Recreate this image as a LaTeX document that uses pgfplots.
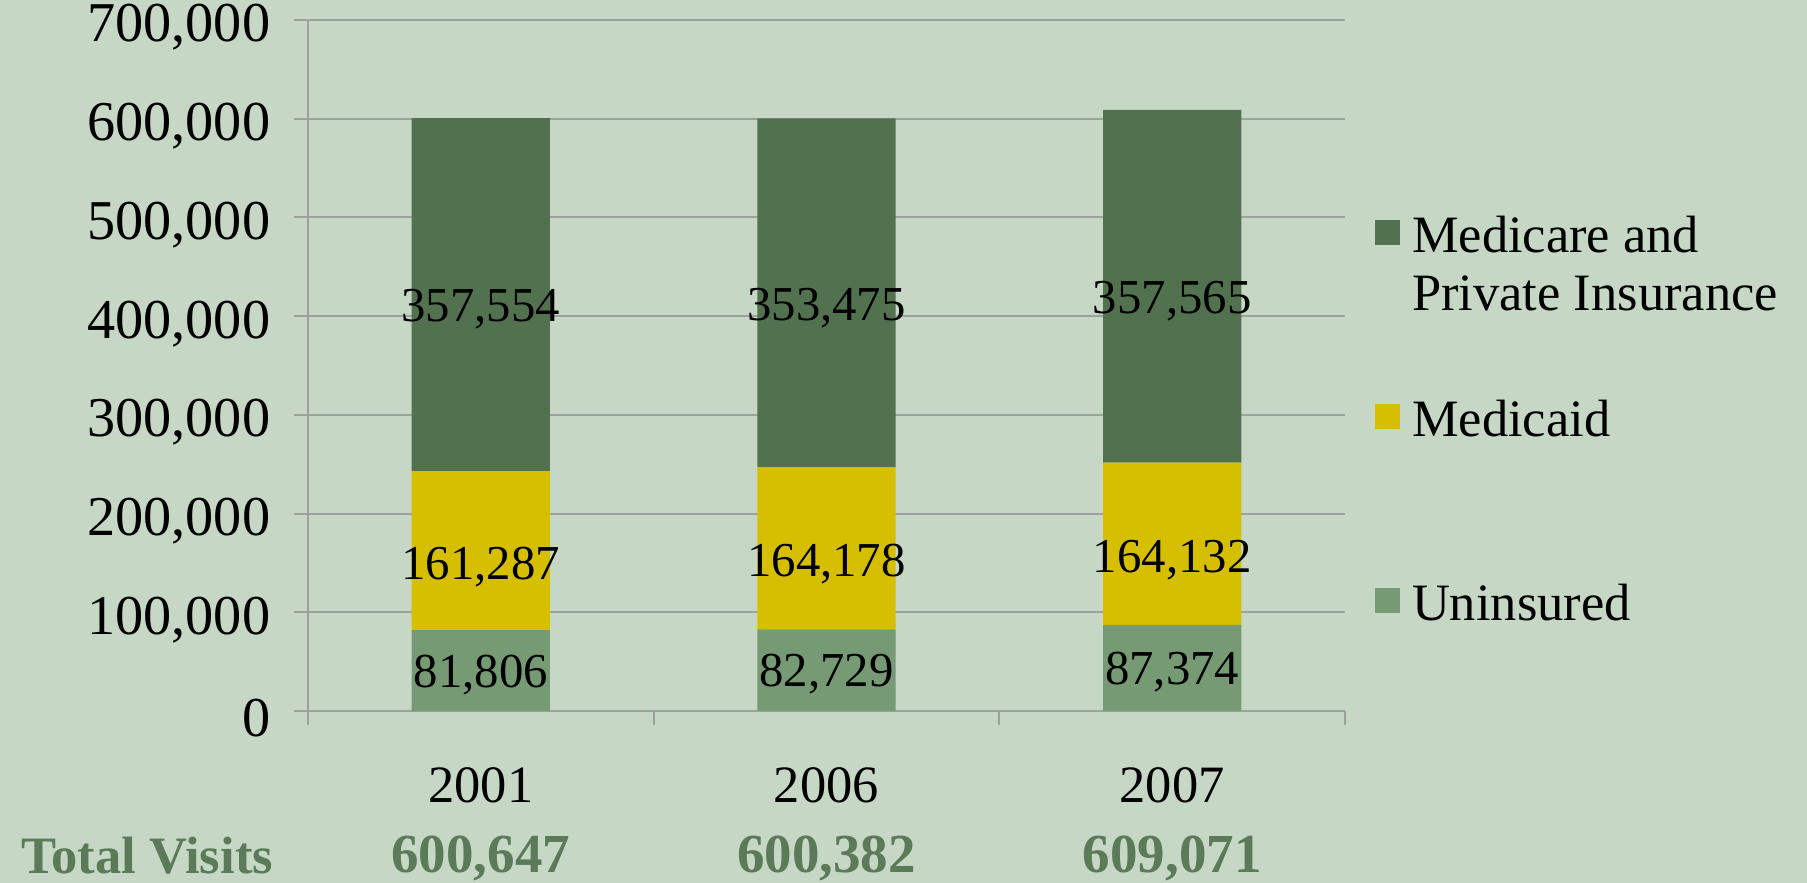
\documentclass[border=0pt]{standalone}
\usepackage{pgfplots}
\pgfplotsset{compat=1.18}
\usepackage{fontspec}
\setmainfont{Liberation Serif}

\definecolor{bgc}{HTML}{C6D8C5}
\definecolor{darkg}{HTML}{52714F}
\definecolor{yel}{HTML}{D6BF00}
\definecolor{lightg}{HTML}{769A73}
\definecolor{gridc}{HTML}{A0A09E}
\definecolor{totc}{HTML}{5A7A58}

% year over total, baseline on first line
\newcommand{\yr}[2]{\begin{tabular}[t]{@{}c@{}}#1\\\textcolor{totc}{\bfseries\fontsize{22}{28}\selectfont #2}\end{tabular}}
% two-line legend entry, baseline on first line
\newcommand{\legtwo}[2]{\begin{tabular}[t]{@{}l@{}}#1\\#2\end{tabular}}

\begin{document}
\begin{tikzpicture}
\useasboundingbox[fill=bgc] (-123.2pt,-68.8pt) rectangle (599.6pt,284.4pt);
\begin{axis}[
    at={(0,0)}, anchor=south west,
    scale only axis, width=414.8pt, height=276.4pt,
    ybar stacked, bar width=0.4,
    xmin=-0.5, xmax=2.5, ymin=0, ymax=700000,
    clip=false,
    axis lines=left,
    axis line style={draw=gridc, line width=0.8pt, -},
    ymajorgrids, grid style={draw=gridc, line width=0.8pt},
    tick align=outside,
    major tick length=5.6pt, minor tick length=5.6pt,
    ytick={0,100000,200000,300000,400000,500000,600000,700000},
    ytick style={draw=gridc, line width=0.8pt},
    scaled y ticks=false,
    /pgf/number format/fixed,
    /pgf/number format/1000 sep={,},
    /pgf/number format/assume math mode=true,
    yticklabel style={font=\fontsize{22.5}{26}\selectfont, xshift=-6pt, yshift=-3pt},
    xtick={0,1,2},
    xticklabels={{\yr{2001}{600,647}},{\yr{2006}{600,382}},{\yr{2007}{609,071}}},
    xticklabel style={font=\fontsize{21}{28}\selectfont, anchor=base, yshift=-31pt},
    minor xtick={-0.5,0.5,1.5,2.5},
    major x tick style={draw=none},
    minor x tick style={draw=gridc, line width=0.8pt},
    legend image code/.code={\fill[#1] (0pt,3.2pt) rectangle (10pt,13.2pt);},
    reverse legend,
    legend style={at={(1.028,0.7218)}, anchor=north west, draw=none, fill=none,
        inner sep=0pt, row sep=57.5pt, column sep=5pt,
        font=\fontsize{21}{23}\selectfont,
        cells={anchor=base west}, nodes={inner sep=0pt}},
    nodes near coords,
    nodes near coords style={font=\fontsize{19.5}{24}\selectfont, text=black, anchor=center},
]
\addplot[fill=lightg, draw=none,
    every node near coord/.append style={yshift=-1.6pt}]
    coordinates {(0,81806) (1,82729) (2,87374)};
\addplot[fill=yel, draw=none,
    every node near coord/.append style={yshift=-6.4pt}]
    coordinates {(0,161287) (1,164178) (2,164132)};
\addplot[fill=darkg, draw=none,
    every node near coord/.append style={yshift=-6pt}]
    coordinates {(0,357554) (1,353475) (2,357565)};
\addlegendentry{Uninsured}
\addlegendentry{Medicaid}
\addlegendentry{\legtwo{Medicare and}{Private Insurance}}
\end{axis}
\node[anchor=base west, inner sep=0pt, text=totc,
    font=\bfseries\fontsize{21}{25}\selectfont] at (-114.8pt,-64.8pt) {Total Visits};
\end{tikzpicture}
\end{document}
